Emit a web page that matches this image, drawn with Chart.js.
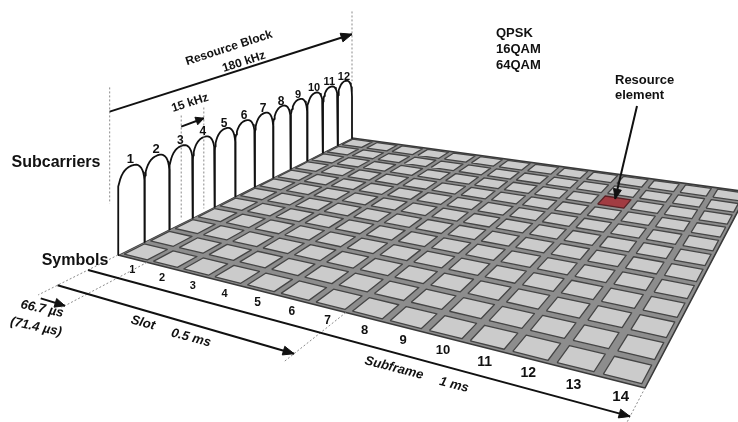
<!DOCTYPE html>
<html>
<head>
<meta charset="utf-8">
<script src="https://cdn.jsdelivr.net/npm/chart.js@4.4.0/dist/chart.umd.min.js"></script>
<style>
html, body { margin: 0; padding: 0; background: #fff; }
</style>
</head>
<body>
<canvas id="rbChart" width="738" height="422"></canvas>
<script>
// 数据
const symbols = [1, 2, 3, 4, 5, 6, 7, 8, 9, 10, 11, 12, 13, 14];
const subcarriers = [1, 2, 3, 4, 5, 6, 7, 8, 9, 10, 11, 12];
const symbolLabels = ['1', '2', '3', '4', '5', '6', '7', '8', '9', '10', '11', '12', '13', '14'];
const subcarrierLabels = ['1', '2', '3', '4', '5', '6', '7', '8', '9', '10', '11', '12'];
const modulations = ['QPSK', '16QAM', '64QAM'];
const resourceElement = [11, 10]; // 符号, 子载波
const slotLength = 7;      // 符号数
const subframeLength = 14; // 符号数
const spacingCarriers = [3, 4];
const symbolTimes = ['66.7 µs', '(71.4 µs)'];

const FONT = '"Liberation Sans", Arial, sans-serif';
const nU = symbols.length;
const nV = subcarriers.length;

// 透视: 网格四个角 (前左, 前右, 后右, 后左)
const P = [[118, 255], [645, 388], [748, 192], [352, 138]];
const dx1 = P[1][0] - P[2][0], dx2 = P[3][0] - P[2][0], dx3 = P[0][0] - P[1][0] + P[2][0] - P[3][0];
const dy1 = P[1][1] - P[2][1], dy2 = P[3][1] - P[2][1], dy3 = P[0][1] - P[1][1] + P[2][1] - P[3][1];
const den = dx1 * dy2 - dx2 * dy1;
const hg = (dx3 * dy2 - dx2 * dy3) / den;
const hh = (dx1 * dy3 - dx3 * dy1) / den;
const ha = P[1][0] - P[0][0] + hg * P[1][0], hb = P[3][0] - P[0][0] + hh * P[3][0], hc = P[0][0];
const hd = P[1][1] - P[0][1] + hg * P[1][1], he = P[3][1] - P[0][1] + hh * P[3][1], hf = P[0][1];
const stretch = 0.072;

function warpU(u) {
    return u + stretch * u * (nU - u) / nU;
}

function depth(u, v) {
    return hg * warpU(u) / nU + hh * v / nV + 1;
}

function project(u, v, z) {
    const s = warpU(u) / nU, t = v / nV;
    const w = depth(u, v);
    return { x: (ha * s + hb * t + hc) / w, y: (hd * s + he * t + hf - (z || 0)) / w };
}

// 数据集
const datasets = [];

function addShape(points, fillColor, lineColor, lineWidth, dash) {
    datasets.push({
        data: points,
        borderColor: lineColor || 'rgba(0,0,0,0)',
        backgroundColor: fillColor || 'rgba(0,0,0,0)',
        borderWidth: lineWidth || 0,
        borderDash: dash || [],
        borderJoinStyle: 'round',
        fill: fillColor ? 'shape' : false,
        pointRadius: 0,
        tension: 0
    });
}

function addArrow(a, b, color, width, len, half) {
    addShape([a, b], null, color, width);
    const ang = Math.atan2(b.y - a.y, b.x - a.x);
    const back = { x: b.x - len * Math.cos(ang), y: b.y - len * Math.sin(ang) };
    const nx = -Math.sin(ang) * half, ny = Math.cos(ang) * half;
    addShape([b, { x: back.x + nx, y: back.y + ny }, { x: back.x - nx, y: back.y - ny }, b], color, color, 1);
}

// 底板
addShape([project(0, 0), project(nU, 0), project(nU, nV), project(0, nV), project(0, 0)], '#8d8d8d', '#3a3a3a', 1.6);

// 资源单元
const gu = 0.1, gv = 0.12;
subcarriers.slice().reverse().forEach(sc => {
    symbols.forEach(sym => {
        const u0 = sym - 1 + gu, u1 = sym - gu;
        const v0 = sc - 1 + gv, v1 = sc - gv;
        const hit = sym === resourceElement[0] && sc === resourceElement[1];
        addShape([project(u0, v0), project(u1, v0), project(u1, v1), project(u0, v1), project(u0, v0)],
            hit ? '#a23c42' : '#cbcbcb', hit ? '#5a2226' : '#454545', 1.3);
    });
});

// 子载波
const archSide = 58, archTop = 26;
subcarriers.slice().reverse().forEach(k => {
    const v0 = k - 1, v1 = k;
    const pts = [project(0, v0, 0), project(0, v0, archSide)];
    for (let i = 1; i < 20; i++) {
        const th = Math.PI - Math.PI * i / 20;
        const c = Math.cos(th), s = Math.sin(th);
        const dv = 0.5 * Math.sign(c) * Math.pow(Math.abs(c), 0.85);
        pts.push(project(0, (v0 + v1) / 2 + dv, archSide + archTop * Math.pow(s, 0.8)));
    }
    pts.push(project(0, v1, archSide), project(0, v1, 0));
    addShape(pts, '#ffffff', '#111111', 1.8);
});

// 虚线
const dash = [2, 2];
const dashColor = '#8a8a8a';
addShape([project(0, -0.3, 170), project(0, -0.3, 55)], null, dashColor, 1, dash);
addShape([project(0, nV, 178), project(0, nV, 80)], null, dashColor, 1, dash);
spacingCarriers.forEach(k => {
    addShape([project(0, k - 0.5, 117), project(0, k - 0.5, 4)], null, dashColor, 1, dash);
});
addShape([project(0, 0), project(0, -2.65)], null, dashColor, 1, dash);
addShape([project(1, 0), project(1, -2.85)], null, dashColor, 1, dash);
addShape([project(slotLength, 0), project(slotLength, -2.4)], null, dashColor, 1, dash);
addShape([project(subframeLength, 0), project(subframeLength, -1.3)], null, dashColor, 1, dash);

// 箭头
addArrow(project(0, -0.3, 146), project(0, nV, 146), '#111', 2, 11, 4.5);
addArrow(project(0, spacingCarriers[0] - 0.5, 105), project(0, spacingCarriers[1] - 0.5, 105), '#111', 2, 8, 4);
addArrow(project(0, -2.05), project(slotLength, -2.05), '#111', 2, 11, 4.5);
addArrow(project(0, -1.05), project(subframeLength, -1.05), '#111', 2, 11, 4.5);
addArrow(project(0.2, -2.75), project(1, -2.75), '#111', 2, 10, 4.5);
addArrow({ x: 637, y: 106 }, project(resourceElement[0] - 0.55, resourceElement[1] - 0.25), '#111', 2, 10, 4);

datasets.forEach((d, i) => { d.order = -i; });

// 文字
const textPlugin = {
    id: 'gridTexts',
    afterDatasetsDraw(chart) {
        const { ctx, scales } = chart;
        const sx = scales.x, sy = scales.y;
        function put(text, px, py, font, angle, align) {
            ctx.save();
            ctx.translate(sx.getPixelForValue(px), sy.getPixelForValue(py));
            ctx.rotate((angle || 0) * Math.PI / 180);
            ctx.font = font;
            ctx.fillStyle = '#111';
            ctx.textAlign = align || 'center';
            ctx.textBaseline = 'middle';
            ctx.fillText(text, 0, 0);
            ctx.restore();
        }
        symbolLabels.forEach((t, i) => {
            const p = project(i + 0.5, 0, -11);
            const size = Math.round(10.5 / depth(i + 0.5, 0));
            put(t, p.x, p.y, 'bold ' + size + 'px ' + FONT);
        });
        subcarrierLabels.forEach((t, i) => {
            const p = project(0, i + 0.5, archSide + archTop + 6);
            const size = Math.round(13 / Math.sqrt(depth(0, i + 0.5)));
            put(t, p.x - 1, p.y, 'bold ' + size + 'px ' + FONT);
        });
        put('Subcarriers', 56, 163, 'bold 16px ' + FONT);
        put('Symbols', 75, 261, 'bold 16px ' + FONT);
        put('Resource Block', 229, 48, 'bold 12px ' + FONT, -18);
        put('180 kHz', 244, 62, 'bold 12px ' + FONT, -18);
        put('15 kHz', 190, 103, 'bold 12px ' + FONT, -18);
        modulations.forEach((m, i) => put(m, 496, 33 + i * 16, 'bold 13px ' + FONT, 0, 'left'));
        put('Resource', 615, 80, 'bold 13px ' + FONT, 0, 'left');
        put('element', 615, 95, 'bold 13px ' + FONT, 0, 'left');
        put(symbolTimes[0], 42, 309, 'italic bold 13px ' + FONT, 12);
        put(symbolTimes[1], 36, 327, 'italic bold 13px ' + FONT, 12);
        put('Slot', 143, 323, 'italic bold 13px ' + FONT, 15);
        put('0.5 ms', 191, 338, 'italic bold 13px ' + FONT, 15);
        put('Subframe', 394, 368, 'italic bold 13px ' + FONT, 14.5);
        put('1 ms', 454, 385, 'italic bold 13px ' + FONT, 14.5);
    }
};

// 初始化图表
const ctx = document.getElementById('rbChart').getContext('2d');
const rbChart = new Chart(ctx, {
    type: 'line',
    data: { datasets: datasets },
    options: {
        responsive: false,
        animation: false,
        layout: { padding: 0 },
        scales: {
            x: { type: 'linear', min: 0, max: 738, display: false },
            y: { type: 'linear', min: 0, max: 422, reverse: true, display: false }
        },
        plugins: {
            legend: { display: false },
            tooltip: { enabled: false }
        }
    },
    plugins: [textPlugin]
});
</script>
</body>
</html>
